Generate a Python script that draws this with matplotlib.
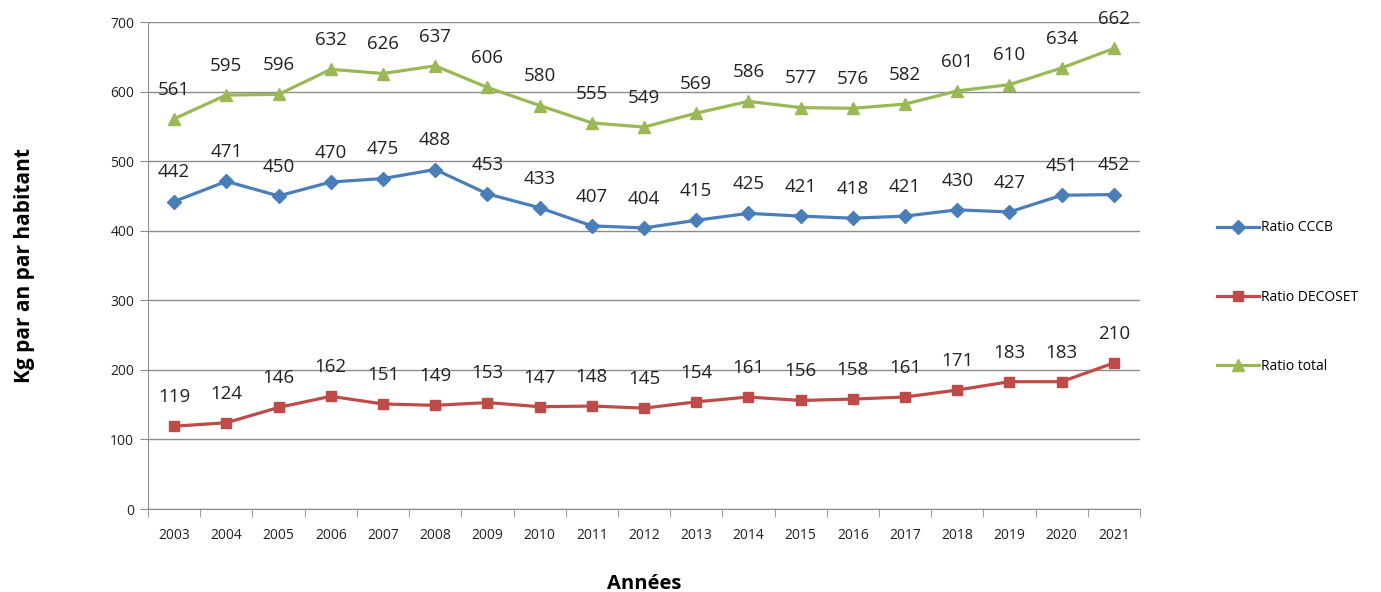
import matplotlib

matplotlib.use("Agg")
import matplotlib.pyplot as plt
import numpy as np
from matplotlib.ticker import FixedLocator

plt.rcParams["font.family"] = ["Open Sans", "DejaVu Sans"]

years = [str(y) for y in range(2003, 2022)]
cccb = [442, 471, 450, 470, 475, 488, 453, 433, 407, 404, 415, 425, 421, 418, 421, 430, 427, 451, 452]
decoset = [119, 124, 146, 162, 151, 149, 153, 147, 148, 145, 154, 161, 156, 158, 161, 171, 183, 183, 210]
total = [561, 595, 596, 632, 626, 637, 606, 580, 555, 549, 569, 586, 577, 576, 582, 601, 610, 634, 662]

BLUE, RED, GREEN, GRID = "#4a7ebb", "#be4b48", "#98b954", "#8c8c8c"

fig = plt.figure(figsize=(13.81, 5.92), dpi=100)
ax = fig.add_axes([0.1072, 0.1402, 0.7183, 0.8226])

x = np.arange(len(years))
series = [
    (cccb, BLUE, "D", 7.5, "Ratio CCCB"),
    (decoset, RED, "s", 7.5, "Ratio DECOSET"),
    (total, GREEN, "^", 9, "Ratio total"),
]
for vals, col, mk, ms, lab in series:
    ax.plot(x, vals, color=col, lw=2.3, marker=mk, ms=ms, label=lab, zorder=3)
    for xi, v in zip(x, vals):
        ax.annotate(str(v), (xi, v), xytext=(0, 21), textcoords="offset points",
                    ha="center", va="center", fontsize=13.5, color="#222222")

ax.set_xlim(-0.5, len(years) - 0.5)
ax.set_ylim(0, 700)
ax.set_yticks(range(0, 701, 100))
ax.yaxis.grid(True, color=GRID, lw=1)
ax.set_axisbelow(True)

ax.set_xticks(x)
ax.set_xticklabels(years)
ax.xaxis.set_minor_locator(FixedLocator(np.arange(-0.5, len(years), 1)))
ax.tick_params(axis="x", which="major", length=0, pad=14, labelsize=10, colors="#222222")
ax.tick_params(axis="x", which="minor", length=6, color=GRID, direction="out")
ax.tick_params(axis="y", length=6, color=GRID, labelsize=10, colors="#222222", pad=4)

for s in ("top", "right"):
    ax.spines[s].set_visible(False)
for s in ("left", "bottom"):
    ax.spines[s].set_color(GRID)

ax.set_xlabel("Années", fontsize=14.5, fontweight="bold", labelpad=22)
ax.set_ylabel("Kg par an par habitant", fontsize=15, fontweight="bold", labelpad=54)

ax.legend(loc="center left", bbox_to_anchor=(1.065, 0.435), frameon=False,
          fontsize=10, labelspacing=3.9, handlelength=3.0, handletextpad=0.2)

fig.savefig("out.png", dpi=100)
